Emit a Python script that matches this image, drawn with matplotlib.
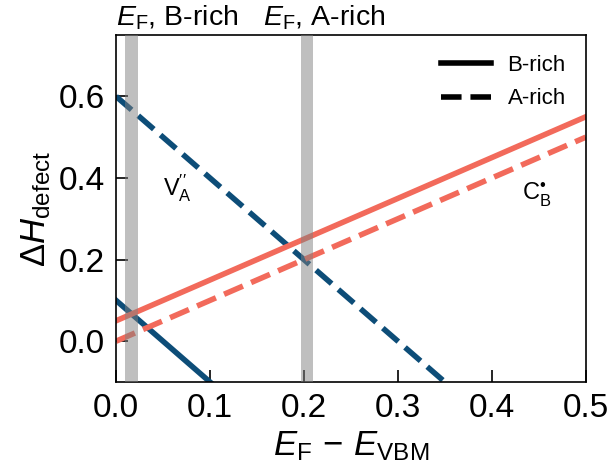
import matplotlib.pyplot as plt
import numpy as np

plt.rcParams['font.family'] = ['Liberation Sans', 'DejaVu Sans']
plt.rcParams['mathtext.fontset'] = 'custom'
plt.rcParams['mathtext.rm'] = 'Liberation Sans'
plt.rcParams['mathtext.it'] = 'Liberation Sans:italic'
plt.rcParams['mathtext.bf'] = 'Liberation Sans:bold'

# Fermi level range and defect formation energies (end points)
e_fermi = [0.0, 0.5]
v_a_b_rich = [0.1, -0.9]
v_a_a_rich = [0.6, -0.4]
c_b_b_rich = [0.05, 0.55]
c_b_a_rich = [0.0, 0.5]

# pinned Fermi level bands
band_b_rich = (0.01, 0.023)
band_a_rich = (0.197, 0.21)

blue = '#0d4d78'
red = '#f26a5b'
lw = 4

fig = plt.figure(figsize=(6.14, 4.69), dpi=100)
ax = fig.add_axes([0.189, 0.1855, 0.765, 0.7395])

ax.plot(e_fermi, v_a_b_rich, color=blue, lw=lw, ls='-')
ax.plot(e_fermi, v_a_a_rich, color=blue, lw=lw, ls='--')
ax.plot(e_fermi, c_b_b_rich, color=red, lw=lw, ls='-')
ax.plot(e_fermi, c_b_a_rich, color=red, lw=lw, ls='--')

ax.axvspan(*band_b_rich, color='gray', alpha=0.5, lw=0, zorder=5)
ax.axvspan(*band_a_rich, color='gray', alpha=0.5, lw=0, zorder=5)

# legend with black proxy lines
ax.plot([], [], color='black', lw=lw, ls='-', label='B-rich')
ax.plot([], [], color='black', lw=lw, ls='--', label='A-rich')
ax.legend(loc='upper right', frameon=False, fontsize=16, handlelength=2.25,
          handletextpad=0.75, labelspacing=0.55, borderaxespad=0.5,
          bbox_to_anchor=(1.0, 1.0))

ax.text(0.05, 0.375, r'V$_{\mathrm{A}}^{\prime\prime}$', fontsize=17, va='center')
ax.text(0.432, 0.36, r'C$_{\mathrm{B}}^{•}$', fontsize=17, va='center')

ax.text(0.0, 1.027, r'$E_{\mathrm{F}}$, B-rich', fontsize=20.5,
        transform=ax.get_xaxis_transform(), ha='left', va='baseline')
ax.text(0.156, 1.027, r'$E_{\mathrm{F}}$, A-rich', fontsize=20.5,
        transform=ax.get_xaxis_transform(), ha='left', va='baseline')

ax.set_xlim(0, 0.5)
ax.set_ylim(-0.1, 0.75)
ax.set_xticks(np.arange(0, 0.51, 0.1))
ax.set_yticks([0.0, 0.2, 0.4, 0.6])
ax.tick_params(direction='in', length=8.5, width=1.2, labelsize=24, pad=8)
for s in ax.spines.values():
    s.set_linewidth(1.2)

ax.set_xlabel(r'$E_{\mathrm{F}}\,-\,E_{\mathrm{VBM}}$', fontsize=25)
ax.set_ylabel(r'$\Delta H_{\mathrm{defect}}$', fontsize=25)

fig.savefig('out.png', dpi=100)
